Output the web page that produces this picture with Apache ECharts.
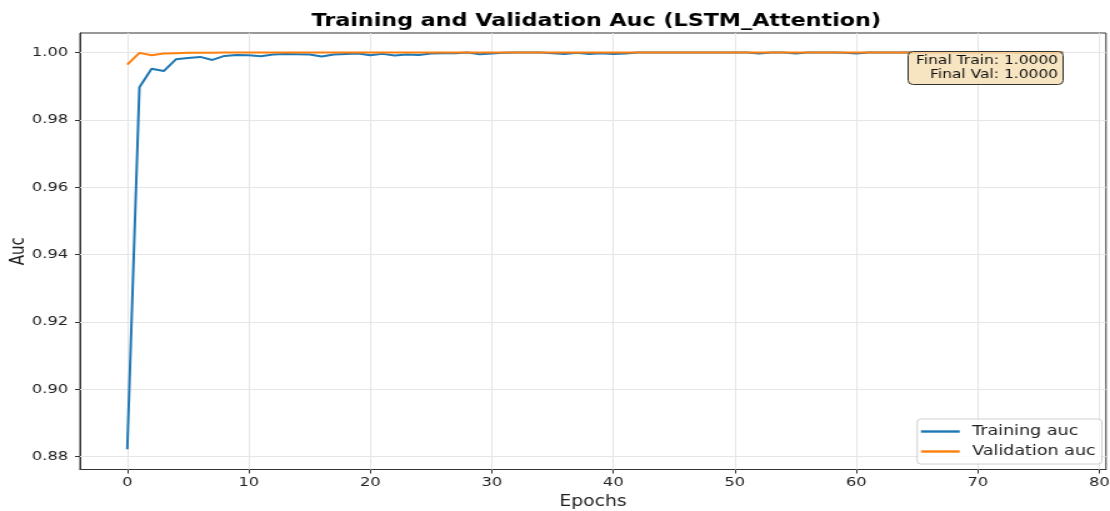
<!DOCTYPE html>
<html>
<head>
<meta charset="utf-8">
<script src="https://cdn.jsdelivr.net/npm/echarts@6/dist/echarts.min.js"></script>
<style>
  html, body { margin: 0; padding: 0; background: #fff; overflow: hidden; }
  /* the figure is laid out narrower and widened horizontally */
  #chart { width: 888px; height: 511px; transform: scaleX(1.25); transform-origin: 0 0; }
</style>
</head>
<body>
<div id="chart"></div>
<script>
// Epoch index 0..77
const epochs = Array.from({ length: 78 }, (_, i) => i);

const trainAuc = [
  0.8822, 0.9897, 0.9952, 0.9945, 0.9980, 0.9984, 0.9987, 0.9978, 0.9990, 0.9993,
  0.9992, 0.9989, 0.9994, 0.9996, 0.9995, 0.9994, 0.9988, 0.9994, 0.9996, 0.9997,
  0.9992, 0.9996, 0.9991, 0.9994, 0.9993, 0.9997, 0.9998, 0.9998, 1.0000, 0.9995,
  0.9997, 0.9999, 1.0000, 1.0000, 1.0000, 0.9998, 0.9996, 0.9999, 0.9996, 0.9998,
  0.9996, 0.9997, 1.0000, 1.0000, 1.0000, 1.0000, 1.0000, 1.0000, 1.0000, 1.0000,
  1.0000, 1.0000, 0.9997, 1.0000, 1.0000, 0.9997, 1.0000, 1.0000, 1.0000, 0.9999,
  0.9997, 1.0000, 1.0000, 1.0000, 1.0000, 1.0000, 1.0000, 1.0000, 1.0000, 1.0000,
  1.0000, 1.0000, 1.0000, 1.0000, 1.0000, 1.0000, 1.0000, 1.0000
];

const valAuc = [
  0.9964, 0.9999, 0.9992, 0.9997, 0.9998, 0.9999, 0.9999, 0.9999, 1.0000, 1.0000,
  1.0000, 1.0000, 1.0000, 1.0000, 1.0000, 1.0000, 1.0000, 1.0000, 1.0000, 1.0000,
  1.0000, 1.0000, 1.0000, 1.0000, 1.0000, 1.0000, 1.0000, 1.0000, 1.0000, 1.0000,
  1.0000, 1.0000, 1.0000, 1.0000, 1.0000, 1.0000, 1.0000, 1.0000, 1.0000, 1.0000,
  1.0000, 1.0000, 1.0000, 1.0000, 1.0000, 1.0000, 1.0000, 1.0000, 1.0000, 1.0000,
  1.0000, 1.0000, 1.0000, 1.0000, 1.0000, 1.0000, 1.0000, 1.0000, 1.0000, 1.0000,
  1.0000, 1.0000, 1.0000, 1.0000, 1.0000, 1.0000, 1.0000, 1.0000, 1.0000, 1.0000,
  1.0000, 1.0000, 1.0000, 1.0000, 1.0000, 1.0000, 1.0000, 1.0000
];

const xTicks = [0, 10, 20, 30, 40, 50, 60, 70, 80];
const yTicks = [0.88, 0.90, 0.92, 0.94, 0.96, 0.98, 1.00];

const seriesNames = ['Training auc', 'Validation auc'];
const titleText = 'Training and Validation Auc (LSTM_Attention)';
const finalTrain = trainAuc[trainAuc.length - 1];
const finalVal = valAuc[valAuc.length - 1];

const FONT = "'DejaVu Sans', sans-serif";
const pairs = arr => arr.map((v, i) => [epochs[i], v]);

const chart = echarts.init(document.getElementById('chart'), null, { renderer: 'canvas' });

// summary box size
const boxW = 124, boxH = 33;

chart.setOption({
  animation: false,
  backgroundColor: '#fff',
  title: {
    text: titleText,
    left: 472, textAlign: 'center', top: 7,
    textStyle: { fontFamily: FONT, fontSize: 17.8, fontWeight: 'bold', color: '#000' }
  },
  grid: {
    left: 64, right: 3.2, top: 33, bottom: 41.5,
    containLabel: false, outerBoundsMode: 'none',
    show: true, borderColor: '#333', borderWidth: 1, backgroundColor: 'transparent'
  },
  legend: {
    orient: 'vertical',
    right: 6.5, bottom: 47,
    data: seriesNames,
    icon: 'rect', itemWidth: 31, itemHeight: 2.4, itemGap: 5,
    padding: [5, 5, 5, 3],
    backgroundColor: 'rgba(255,255,255,0.8)',
    borderColor: '#d0d0d0', borderWidth: 1, borderRadius: 3,
    textStyle: { fontFamily: FONT, fontSize: 14, color: '#222', lineHeight: 15, padding: [0, 0, 0, 5] }
  },
  xAxis: {
    type: 'value', min: -3.89, max: 80.55,
    name: 'Epochs', nameLocation: 'middle', nameGap: 25, nameMoveOverlap: false,
    nameTextStyle: { fontFamily: FONT, fontSize: 15, color: '#222' },
    axisLine: { show: true, onZero: false, lineStyle: { color: '#333', width: 1 } },
    axisTick: { show: true, length: 4, customValues: xTicks, lineStyle: { color: '#333' } },
    axisLabel: { customValues: xTicks, margin: 7, fontFamily: FONT, fontSize: 13, color: '#222' },
    splitLine: { show: false }
  },
  yAxis: {
    type: 'value', min: 0.8762, max: 1.0058,
    name: 'Auc', nameLocation: 'middle', nameGap: 41, nameRotate: 90, nameMoveOverlap: false,
    nameTextStyle: { fontFamily: FONT, fontSize: 15, color: '#222' },
    axisLine: { show: true, onZero: false, lineStyle: { color: '#333', width: 1 } },
    axisTick: { show: true, length: 4, customValues: yTicks, lineStyle: { color: '#333' } },
    axisLabel: {
      customValues: yTicks, margin: 9.5, fontFamily: FONT, fontSize: 13, color: '#222',
      formatter: v => v.toFixed(2)
    },
    splitLine: { show: false }
  },
  graphic: [{
    type: 'group',
    right: 37, top: 51, z: 100,
    children: [
      {
        type: 'rect', z: 100,
        shape: { x: 0, y: 0, width: boxW, height: boxH, r: 4 },
        style: { fill: 'rgba(245,222,179,0.8)', stroke: '#333', lineWidth: 1 }
      },
      {
        type: 'text', z: 101, x: boxW - 4, y: 3,
        style: {
          text: 'Final Train: ' + finalTrain.toFixed(4),
          font: '12.4px ' + FONT, fill: '#111', align: 'right', verticalAlign: 'top'
        }
      },
      {
        type: 'text', z: 101, x: boxW - 4, y: 17,
        style: {
          text: 'Final Val: ' + finalVal.toFixed(4),
          font: '12.4px ' + FONT, fill: '#111', align: 'right', verticalAlign: 'top'
        }
      }
    ]
  }],
  series: [
    {
      // light grid lines at tick positions
      type: 'line', data: [], z: 1, silent: true,
      markLine: {
        silent: true, symbol: 'none', animation: false, z: 1,
        label: { show: false },
        lineStyle: { color: '#e6e6e6', width: 1, type: 'solid' },
        emphasis: { disabled: true },
        data: xTicks.map(v => ({ xAxis: v })).concat(yTicks.map(v => ({ yAxis: v })))
      }
    },
    {
      name: seriesNames[0], type: 'line', data: pairs(trainAuc),
      showSymbol: false, symbol: 'none', z: 3,
      lineStyle: { color: '#1f77b4', width: 2 }, itemStyle: { color: '#1f77b4' }
    },
    {
      name: seriesNames[1], type: 'line', data: pairs(valAuc),
      showSymbol: false, symbol: 'none', z: 4,
      lineStyle: { color: '#ff7f0e', width: 2 }, itemStyle: { color: '#ff7f0e' }
    }
  ]
});
</script>
</body>
</html>
